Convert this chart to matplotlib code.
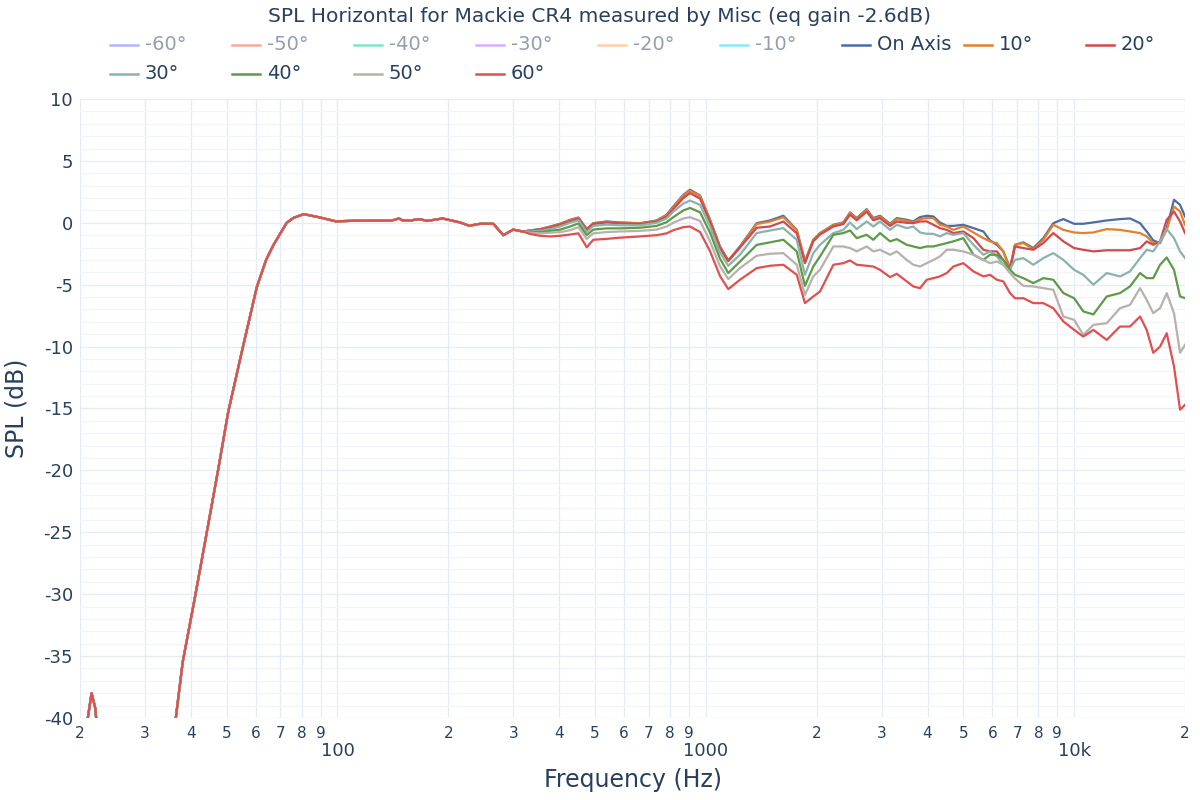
import matplotlib
matplotlib.use("Agg")
import matplotlib.pyplot as plt
from matplotlib.lines import Line2D
import numpy as np

plt.rcParams['font.family'] = ['DejaVu Sans']

TITLE = "SPL Horizontal for Mackie CR4 measured by Misc (eq gain -2.6dB)"
X_LABEL = "Frequency (Hz)"
Y_LABEL = "SPL (dB)"

# legend order (hidden first, then visible)
HIDDEN_LABELS = ["-60°", "-50°", "-40°", "-30°", "-20°", "-10°"]
VISIBLE_LABELS = ["On Axis", "10°", "20°", "30°", "40°", "50°", "60°"]

# shared low-frequency part (all angles coincide)
FREQ_LOW = [20.0, 20.5, 21.0, 21.5, 22.0, 22.6, 25, 30, 35, 36.4, 38, 41, 44, 47.4, 50.5,
            55.4, 60.4, 64, 67, 72.8, 76, 81, 89, 99, 110, 125, 140, 147, 150, 157,
            167, 175, 193, 215, 228, 244, 265, 282, 300, 318]
SPL_LOW = [-52, -45, -40, -38.0, -39.2, -43, -55, -60, -50, -40, -35.5, -30.3, -25.3, -20, -15.3,
           -10, -5.2, -3.0, -1.8, 0.0, 0.4, 0.7, 0.45, 0.12, 0.16, 0.17, 0.17, 0.35, 0.2, 0.18,
           0.3, 0.15, 0.35, 0.03, -0.24, -0.08, -0.08, -1.0, -0.55, -0.7]

FREQ_HIGH = [333, 355, 378, 402, 428, 451, 475, 495, 538, 585,
             663, 736, 783, 816, 869, 906, 965, 1027, 1093, 1151,
             1238, 1375, 1494, 1624, 1766, 1859, 1958, 2042, 2220, 2363,
             2464, 2569, 2734, 2850, 2972, 3164, 3300, 3512, 3660, 3816,
             3980, 4150, 4320, 4510, 4700, 5000, 5330, 5670, 5910, 6170,
             6420, 6700, 6910, 7280, 7750, 8250, 8780, 9350, 10000, 10590,
             11280, 12260, 13320, 14180, 15100, 15740, 16400, 17110, 17840, 18670,
             19390, 20000]

SPL_ON_AXIS = [-0.62, -0.51, -0.3, -0.08, 0.24, 0.43, -0.51, -0.03, 0.11, 0.03,
               -0.03, 0.19, 0.65, 1.32, 2.26, 2.67, 2.2, 0.24, -1.91, -3.04,
               -1.91, -0.03, 0.19, 0.57, -0.57, -3.13, -1.37, -0.83, -0.16, 0.03,
               0.84, 0.38, 1.1, 0.38, 0.57, -0.08, 0.38, 0.24, 0.11, 0.46,
               0.57, 0.51, 0.03, -0.25, -0.25, -0.16, -0.43, -0.7, -1.42, -1.78,
               -2.3, -3.66, -1.78, -1.58, -2.04, -1.24, -0.03, 0.3, -0.08, -0.08,
               0.03, 0.19, 0.3, 0.35, -0.03, -0.7, -1.42, -1.64, -0.43, 1.86,
               1.45, 0.51]
SPL_10 = [-0.62, -0.52, -0.32, -0.1, 0.2, 0.4, -0.52, -0.05, 0.08, 0.0,
          -0.05, 0.15, 0.6, 1.25, 2.2, 2.6, 2.15, 0.2, -1.95, -3.05,
          -1.95, -0.1, 0.1, 0.45, -0.6, -3.1, -1.4, -0.85, -0.2, 0.0,
          0.8, 0.3, 1.05, 0.3, 0.5, -0.15, 0.3, 0.15, 0.05, 0.3,
          0.38, 0.38, -0.16, -0.3, -0.57, -0.3, -0.78, -1.24, -1.5, -1.64,
          -2.3, -3.74, -1.78, -1.64, -2.13, -1.37, -0.16, -0.57, -0.78, -0.83,
          -0.78, -0.51, -0.57, -0.7, -0.83, -1.1, -1.64, -1.58, -0.57, 1.32,
          0.91, -0.16]
SPL_20 = [-0.65, -0.55, -0.37, -0.15, 0.12, 0.33, -0.55, -0.1, 0.03, -0.05,
          -0.1, 0.1, 0.5, 1.1, 2.0, 2.4, 1.95, 0.05, -2.05, -3.1,
          -2.0, -0.4, -0.3, 0.1, -0.85, -3.26, -1.5, -0.95, -0.3, -0.1,
          0.65, 0.2, 0.9, 0.2, 0.38, -0.25, 0.1, 0.0, -0.03, 0.11,
          0.11, -0.16, -0.43, -0.57, -0.83, -0.7, -1.24, -2.18, -2.31, -2.31,
          -3.0, -3.74, -1.91, -2.04, -2.18, -1.64, -0.83, -1.5, -2.04, -2.18,
          -2.31, -2.22, -2.22, -2.22, -2.04, -1.5, -1.78, -1.5, 0.24, 0.91,
          0.11, -0.83]
SPL_30 = [-0.7, -0.65, -0.5, -0.3, 0.0, 0.2, -0.75, -0.25, -0.15, -0.2,
          -0.2, 0.0, 0.35, 0.9, 1.55, 1.8, 1.45, -0.3, -2.4, -3.47,
          -2.58, -0.83, -0.62, -0.43, -1.37, -4.2, -2.45, -1.78, -0.83, -0.57,
          0.03, -0.51, 0.11, -0.3, 0.11, -0.57, -0.16, -0.43, -0.3, -0.78,
          -0.89, -0.89, -1.1, -0.83, -0.97, -0.83, -1.78, -2.58, -2.31, -2.72,
          -3.39, -3.74, -3.0, -2.85, -3.39, -2.85, -2.45, -3.0, -3.8, -4.2,
          -5.0, -4.06, -4.33, -3.93, -2.85, -2.18, -2.31, -1.5, -0.5, -1.24,
          -2.31, -2.85]
SPL_40 = [-0.75, -0.75, -0.65, -0.55, -0.3, -0.05, -1.0, -0.55, -0.45, -0.45,
          -0.4, -0.25, 0.05, 0.45, 1.0, 1.2, 0.85, -0.8, -2.9, -4.06,
          -3.13, -1.78, -1.58, -1.37, -2.31, -5.09, -3.53, -2.72, -0.97, -0.83,
          -0.62, -1.24, -0.97, -1.37, -0.83, -1.5, -1.32, -1.78, -1.91, -2.04,
          -1.91, -1.91, -1.78, -1.64, -1.5, -1.24, -2.58, -3.0, -2.58, -2.58,
          -3.0, -3.8, -4.2, -4.47, -4.87, -4.47, -4.6, -5.68, -6.09, -7.16,
          -7.4, -5.95, -5.68, -5.14, -4.06, -4.47, -4.47, -3.39, -2.8, -3.8,
          -5.95, -6.09]
SPL_50 = [-0.8, -0.85, -0.8, -0.75, -0.6, -0.35, -1.3, -0.85, -0.75, -0.7,
          -0.65, -0.55, -0.3, 0.0, 0.35, 0.45, 0.15, -1.5, -3.5, -4.55,
          -3.66, -2.66, -2.5, -2.45, -3.39, -5.82, -4.33, -3.8, -1.91, -1.91,
          -2.04, -2.31, -1.91, -2.31, -2.18, -2.58, -2.31, -3.0, -3.39, -3.53,
          -3.26, -3.0, -2.72, -2.18, -2.18, -2.31, -2.58, -3.0, -3.26, -3.13,
          -3.39, -4.06, -4.5, -5.09, -5.14, -5.28, -5.41, -7.57, -7.84, -9.05,
          -8.25, -8.11, -6.9, -6.63, -5.28, -6.22, -7.3, -6.9, -5.68, -7.3,
          -10.5, -9.86]
SPL_60 = [-0.9, -1.05, -1.1, -1.05, -0.95, -0.85, -1.97, -1.37, -1.3, -1.2,
          -1.1, -1.0, -0.85, -0.6, -0.35, -0.3, -0.75, -2.3, -4.3, -5.36,
          -4.6, -3.66, -3.47, -3.39, -4.2, -6.49, -5.95, -5.55, -3.39, -3.26,
          -3.04, -3.39, -3.47, -3.53, -3.8, -4.39, -4.12, -4.73, -5.14, -5.28,
          -4.6, -4.47, -4.33, -4.06, -3.53, -3.26, -3.93, -4.33, -4.2, -4.6,
          -4.73, -5.68, -6.1, -6.09, -6.49, -6.49, -6.9, -7.97, -8.65, -9.19,
          -8.65, -9.46, -8.38, -8.38, -7.57, -8.65, -10.5, -10.0, -8.92, -11.6,
          -15.1, -14.7]

HIGH_SERIES = [SPL_ON_AXIS, SPL_10, SPL_20, SPL_30, SPL_40, SPL_50, SPL_60]

HIDDEN_COLORS = ["#636EFA", "#EF553B", "#00CC96", "#AB63FA", "#FFA15A", "#19D3F3"]
VISIBLE_COLORS = ["#4c6ca6", "#e3812b", "#cf4a4d", "#8ab3ad", "#5d9b46", "#b7b1ab", "#e0504f"]

Y_TICKS = [10, 5, 0, -5, -10, -15, -20, -25, -30, -35, -40]
MAJOR_X = [100, 1000, 10000]
MAJOR_X_LABELS = ["100", "1000", "10k"]

TEXT_COLOR = "#2a3f5f"
GRID_MAJOR = "#e6ecf5"
GRID_MINOR = "#f1f4f9"

W, H = 1200, 800
fig = plt.figure(figsize=(W / 100, H / 100), dpi=100)
ax = fig.add_axes([80 / W, 1 - 718 / H, 1105 / W, 619 / H])

for spl, color in zip(HIGH_SERIES, VISIBLE_COLORS):
    f = np.array(FREQ_LOW + FREQ_HIGH)
    v = np.array(SPL_LOW + spl)
    ax.plot(f, v, color=color, lw=1.6, solid_joinstyle='round', zorder=3)

ax.set_xscale('log')
ax.set_xlim(20, 20000)
ax.set_ylim(-40, 10)

# x ticks
minor_pos = []
minor_lab = []
for dec in [10, 100, 1000, 10000]:
    for d in range(2, 10):
        p = d * dec
        if 20 <= p <= 20000:
            minor_pos.append(p)
            minor_lab.append(str(d))
ax.set_xticks(MAJOR_X)
ax.set_xticklabels(MAJOR_X_LABELS)
ax.set_xticks(minor_pos, minor=True)
ax.set_xticklabels(minor_lab, minor=True)
ax.tick_params(axis='x', which='major', length=0, pad=17, labelsize=13, labelcolor=TEXT_COLOR)
ax.tick_params(axis='x', which='minor', length=0, pad=6, labelsize=11, labelcolor=TEXT_COLOR)

ax.set_yticks(Y_TICKS)
ax.set_yticklabels([str(t) for t in Y_TICKS])
ax.set_yticks(np.arange(-40, 11, 1), minor=True)
ax.tick_params(axis='y', which='major', length=0, pad=5, labelsize=13, labelcolor=TEXT_COLOR)
ax.tick_params(axis='y', which='minor', length=0)

ax.grid(True, which='major', axis='both', color=GRID_MAJOR, lw=1.0, zorder=0)
ax.grid(True, which='minor', axis='x', color=GRID_MAJOR, lw=1.0, zorder=0)
ax.grid(True, which='minor', axis='y', color=GRID_MINOR, lw=0.9, zorder=0)
ax.set_axisbelow(True)
for s in ax.spines.values():
    s.set_visible(False)

# texts
fig.text(600 / W, 1 - 16 / H, TITLE, ha='center', va='center', fontsize=14.5, color=TEXT_COLOR)
fig.text(632.5 / W, 1 - 780 / H, X_LABEL, ha='center', va='center', fontsize=17, color=TEXT_COLOR)
fig.text(17 / W, 1 - 408.5 / H, Y_LABEL, ha='center', va='center', rotation=90, fontsize=17,
         color=TEXT_COLOR)

# legend (plotly style, manual)
labels = HIDDEN_LABELS + VISIBLE_LABELS
colors = HIDDEN_COLORS + VISIBLE_COLORS
for i, (lab, col) in enumerate(zip(labels, colors)):
    c = i % 9
    r = i // 9
    x0 = 110 + 122 * c
    y0 = 45 + 28.5 * r
    hidden = i < len(HIDDEN_LABELS)
    alpha = 0.5 if hidden else 1.0
    fig.add_artist(Line2D([x0 / W, (x0 + 28) / W], [1 - y0 / H, 1 - y0 / H],
                          transform=fig.transFigure, color=col, lw=1.8, alpha=alpha))
    fig.text((x0 + 35) / W, 1 - y0 / H, lab, ha='left', va='center', fontsize=14,
             color=TEXT_COLOR, alpha=alpha)

fig.savefig("out.png", dpi=100, facecolor='white')
